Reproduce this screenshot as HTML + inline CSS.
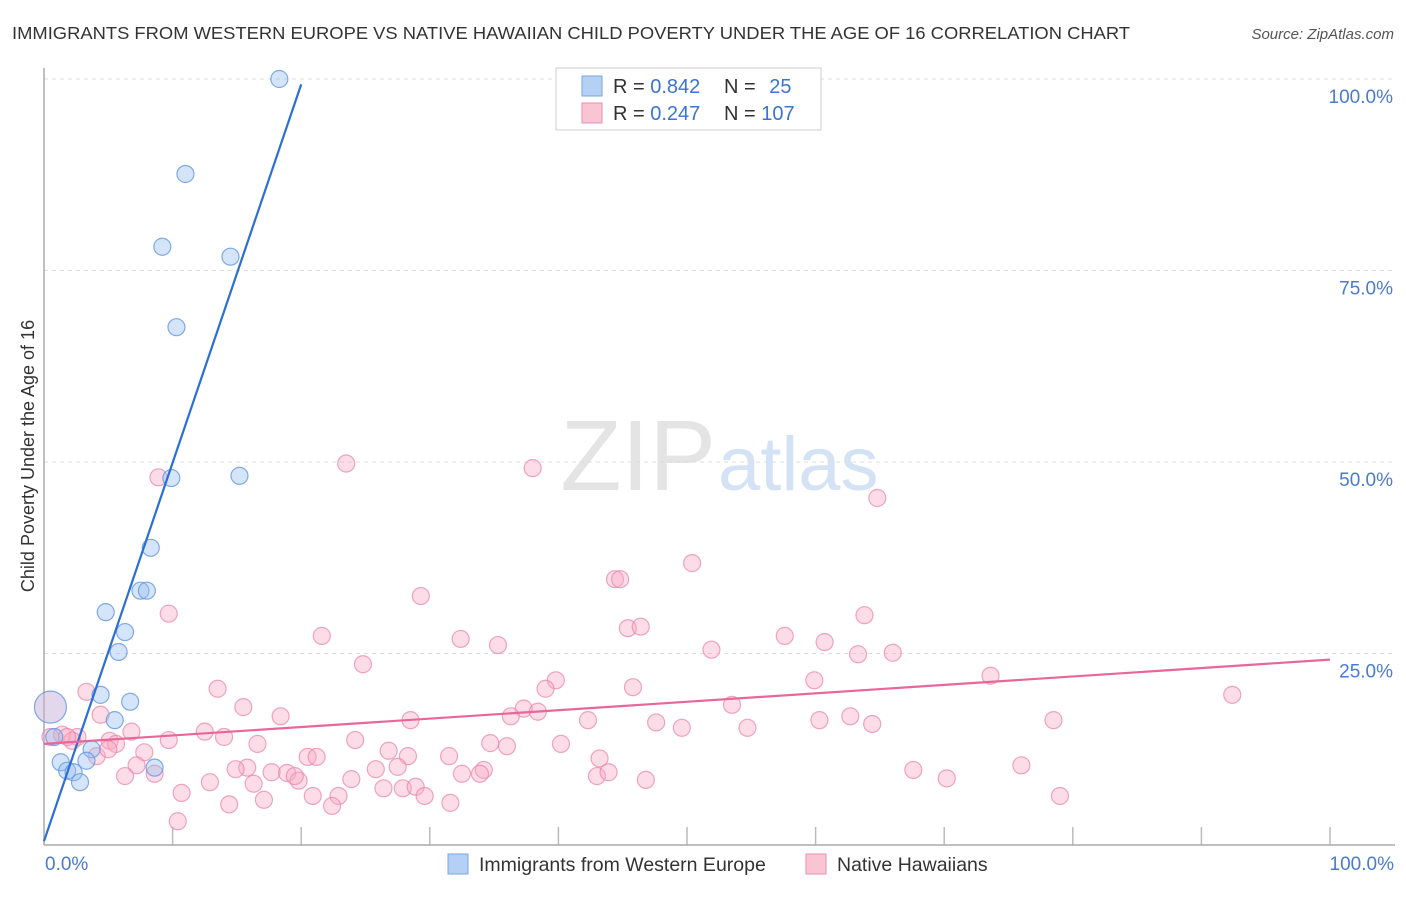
<!DOCTYPE html>
<html><head><meta charset="utf-8"><style>
body{margin:0;background:#fff;font-family:"Liberation Sans",sans-serif;}
svg text{font-family:"Liberation Sans",sans-serif;}
</style></head><body>
<svg width="1406" height="892">
<text x="12" y="39" font-size="17.5" fill="#333" textLength="1118" lengthAdjust="spacingAndGlyphs">IMMIGRANTS FROM WESTERN EUROPE VS NATIVE HAWAIIAN CHILD POVERTY UNDER THE AGE OF 16 CORRELATION CHART</text>
<text x="1394" y="39" font-size="15" fill="#555" font-style="italic" text-anchor="end">Source: ZipAtlas.com</text>
<text x="716" y="490" font-size="100" fill="#e4e4e4" text-anchor="end" font-family="Liberation Serif">ZIP</text>
<text x="718" y="490" font-size="76" fill="#d3e2f4">atlas</text>
<g id="grid"></g>
<line x1="44" y1="68" x2="44" y2="845" stroke="#aaa" stroke-width="1.5"/>
<line x1="44" y1="845" x2="1395" y2="845" stroke="#aaa" stroke-width="1.5"/>
<text transform="translate(34,456) rotate(-90)" font-size="18" fill="#333" text-anchor="middle">Child Poverty Under the Age of 16</text>
<text x="45" y="870" font-size="19" fill="#4a7bd0">0.0%</text>
<text x="1394" y="870" font-size="19" fill="#4a7bd0" text-anchor="end">100.0%</text>
<g id="pts"></g>
<g>
<rect x="556" y="68" width="265" height="62" fill="#fff" stroke="#ccc"/>
<rect x="582" y="76" width="20" height="20" fill="#b4d0f4" stroke="#7aa6e0"/>
<rect x="582" y="103" width="20" height="20" fill="#f9c4d4" stroke="#ec8fac"/>
<text x="613" y="93" font-size="20" fill="#333">R = <tspan fill="#3a74d4">0.842</tspan></text>
<text x="724" y="93" font-size="20" fill="#333">N =  <tspan fill="#3a74d4" dx="8">25</tspan></text>
<text x="613" y="120" font-size="20" fill="#333">R = <tspan fill="#3a74d4">0.247</tspan></text>
<text x="724" y="120" font-size="20" fill="#333">N = <tspan fill="#3a74d4">107</tspan></text>
</g>
<g><rect x="448" y="854" width="20" height="20" fill="#b4d0f4" stroke="#7aa6e0"/><text x="479" y="871" font-size="19.5" fill="#333">Immigrants from Western Europe</text></g>
<g><rect x="806" y="854" width="20" height="20" fill="#f9c4d4" stroke="#ec8fac"/><text x="837" y="871" font-size="19.5" fill="#333">Native Hawaiians</text></g>
</svg>
<script>
const yTicks=[25,50,75,100];
const blueX=[18.3,11.0,9.2,14.5,10.3,9.9,15.2,8.3,7.5,8.0,4.8,6.3,5.8,4.4,6.7,5.5,0.5,0.8,3.7,1.3,3.3,1.8,2.3,8.6,2.8];
const blueY=[100,87.6,78.1,76.8,67.6,47.9,48.2,38.8,33.2,33.2,30.4,27.8,25.2,19.6,18.7,16.3,18.0,14.1,12.5,10.8,11.0,9.7,9.5,10.1,8.2];
const pinkX=[23.5,38.0,8.9,64.8,50.4,44.4,44.8,29.3,9.7,63.8,45.4,46.4,21.6,32.4,57.6,60.7,35.3,51.9,63.3,66.0,24.8,73.6,39.8,39.0,45.8,13.5,3.3,92.4,59.9,15.5,53.5,4.4,18.4,37.3,38.4,36.3,28.5,42.3,78.5,62.7,60.3,64.4,47.6,49.6,54.7,12.5,6.8,14.0,1.4,2.6,2.2,5.1,9.7,24.2,0.5,1.8,5.6,16.6,40.2,34.7,36.0,7.8,26.8,4.1,5.0,20.5,21.2,28.3,31.5,43.2,7.2,15.8,14.9,25.8,27.5,17.7,18.9,34.2,67.6,76.0,8.6,6.3,32.5,33.9,43.0,43.9,70.2,23.9,19.8,19.5,12.9,16.3,26.4,27.9,28.9,46.8,10.7,17.1,20.9,22.9,29.6,79.0,14.4,31.6,22.4,10.4];
const pinkY=[49.8,49.2,48.0,45.3,36.8,34.7,34.7,32.5,30.2,30.0,28.3,28.5,27.3,26.9,27.3,26.5,26.1,25.5,24.9,25.1,23.6,22.1,21.5,20.4,20.6,20.4,20.0,19.6,21.5,18.0,18.3,17.0,16.8,17.8,17.4,16.8,16.3,16.3,16.3,16.8,16.3,15.8,16.0,15.3,15.3,14.8,14.8,14.1,14.4,14.1,13.6,13.6,13.7,13.7,14.1,14.1,13.2,13.2,13.2,13.3,12.9,12.1,12.3,11.6,12.5,11.5,11.5,11.6,11.6,11.3,10.4,10.1,9.9,9.9,10.2,9.5,9.4,9.8,9.8,10.4,9.3,9.0,9.3,9.3,9.0,9.5,8.7,8.6,8.4,9.0,8.2,8.0,7.4,7.4,7.6,8.5,6.8,5.9,6.4,6.4,6.4,6.4,5.3,5.5,5.1,3.1];
const blueLine=[0.5,99.3,20.0];
const pinkLine=[13.2,24.2];
const NS='http://www.w3.org/2000/svg';
const X0=44,X1=1330,Y0=845,Y100=79;
const sx=v=>X0+(X1-X0)*v/100, sy=v=>Y0-(Y0-Y100)*v/100;
const grid=document.getElementById('grid'), pts=document.getElementById('pts');
function mk(tag,attrs,parent){const e=document.createElementNS(NS,tag);for(const k in attrs)e.setAttribute(k,attrs[k]);parent.appendChild(e);return e;}
yTicks.forEach(t=>{
  const l=mk('line',{x1:X0,x2:1395,y1:sy(t),y2:sy(t),stroke:'#ddd','stroke-dasharray':'4,4'},grid);
  
  
  const tx=mk('text',{x:1393,y:sy(t)+24,'font-size':19,fill:'#4a7bd0','text-anchor':'end'},grid);
  tx.textContent=t.toFixed(1)+'%';
  
  
});
for(let i=1;i<=10;i++){
  const tk=mk('line',{x1:sx(i*10),x2:sx(i*10),y1:827,y2:845,stroke:'#bbb','stroke-width':1.5},grid);
  
  
}
pinkX.forEach((x,i)=>{
  const c=mk('circle',{cx:sx(x),cy:sy(pinkY[i]),r:8.5,fill:'rgba(247,170,195,0.4)',stroke:'rgba(232,130,165,0.7)','stroke-width':1.2},pts);
  
  
});
blueX.forEach((x,i)=>{
  const c=mk('circle',{cx:sx(x),cy:sy(blueY[i]),r:i==16?16:8.5,fill:i==16?'rgba(200,175,215,0.5)':'rgba(150,190,240,0.4)',stroke:'rgba(100,150,225,0.8)','stroke-width':1.2},pts);
  
  
});
const bl=mk('line',{x1:sx(0),y1:sy(blueLine[0]),x2:sx(blueLine[2]),y2:sy(blueLine[1]),stroke:'#2a6fd6','stroke-width':2.2},pts);


const pl=mk('line',{x1:sx(0),y1:sy(pinkLine[0]),x2:sx(100),y2:sy(pinkLine[1]),stroke:'#e8669a','stroke-width':2.2},pts);


</script>
</body></html>
